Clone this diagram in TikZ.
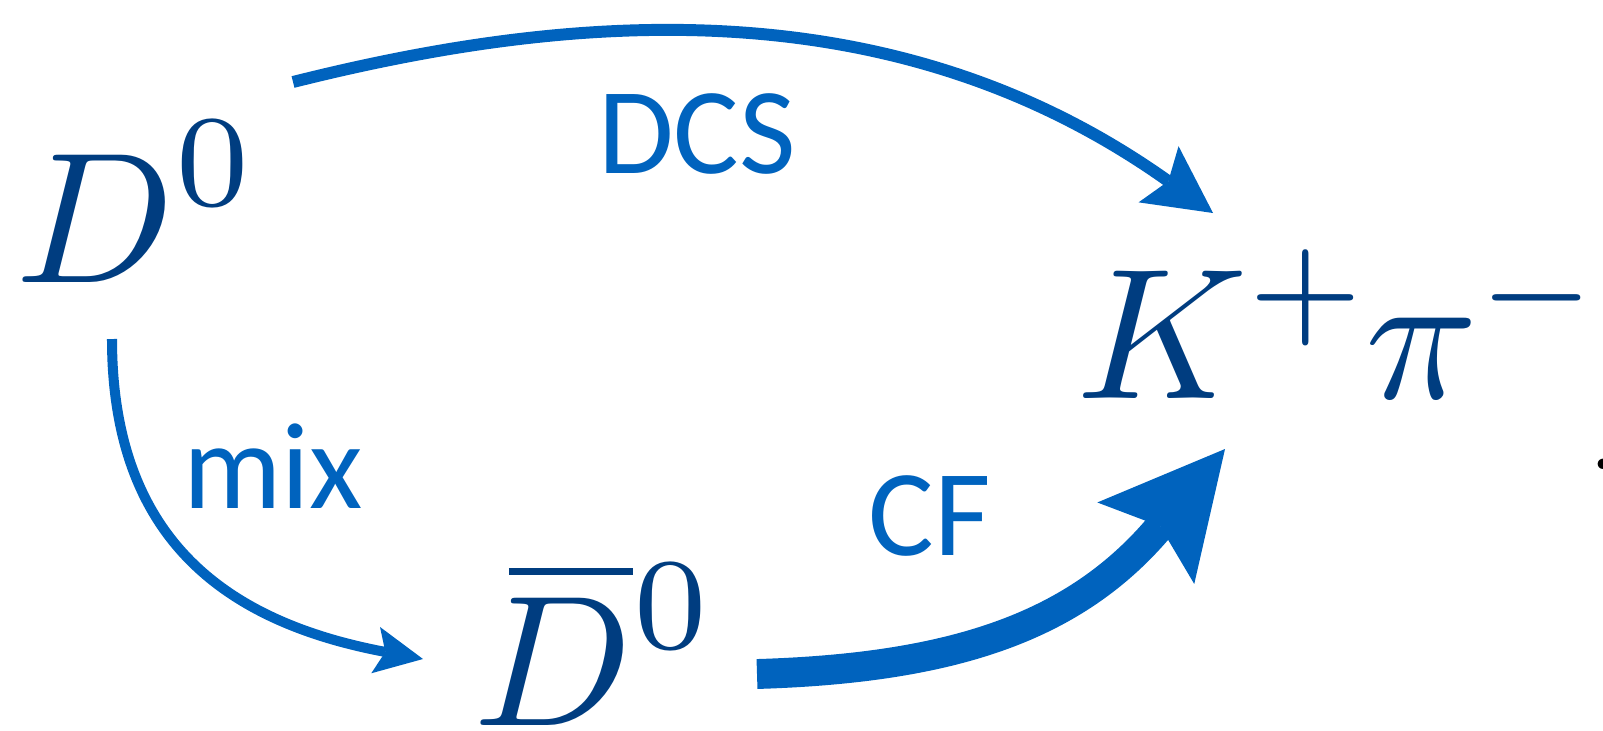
\documentclass[tikz,border=0pt]{standalone}
\usepackage{graphicx}
\usepackage{fontspec}
\newfontfamily\lblfont{Carlito}
\usetikzlibrary{arrows.meta}
\definecolor{partblue}{RGB}{0,61,128}
\definecolor{arrowblue}{RGB}{0,99,190}
\newcommand{\ptcl}[1]{\scalebox{5.3}{\normalsize$#1$}}
\newcommand{\supz}{\raisebox{0.45pt}{$\scriptstyle 0$}}

\begin{document}
\begin{tikzpicture}[x=0.01cm, y=-0.01cm, every node/.style={inner sep=0pt},
	particle/.style={anchor=base west, text=partblue},
	proclabel/.style={anchor=base, text=arrowblue, font=\lblfont\fontsize{35}{40}\selectfont}]
	\useasboundingbox (0,0) rectangle (1603,730);
	\node[particle] (d0) at (15,282) {\ptcl{D^{\supz}}};
	\node[particle] (d0bar) at (473,725) {\ptcl{\mkern3.4mu{\smash{\overline{\mkern-3.4mu D}}}^{\supz}}};
	\node[particle] (kpi) at (1076,398) {\ptcl{K^{+}\mkern-0.6mu\pi^{-}}};
	\node[anchor=base west, font=\fontsize{36}{40}\selectfont] (dot) at (1587,469) {.};
	\node[proclabel] (dcs) at (697,173) {DCS};
	\node[proclabel] (mix) at (273,508) {mix};
	\node[proclabel] (cf) at (930,555) {CF};
	\coordinate (dcs-s) at (293,82);
	\coordinate (dcs-e) at (1213,213);
	\coordinate (mix-s) at (112,339);
	\coordinate (mix-e) at (423,659);
	\coordinate (cf-s) at (757,674);
	\coordinate (cf-e) at (1225,449);
	\draw[arrowblue, line width=3.4pt, -{Stealth[length=19pt, width=19.6pt, inset=3.4pt, line width=0pt]}] (dcs-s) .. controls (560,15) and (887,-19) .. (dcs-e);
	\draw[arrowblue, line width=2.85pt, -{Stealth[length=13.7pt, width=13.4pt, inset=2.8pt, line width=0pt]}] (mix-s) .. controls (112,539) and (226,622) .. (mix-e);
	\draw[arrowblue, line width=8.5pt, -{Stealth[length=35pt, width=36pt, inset=6.3pt, line width=0pt]}] (cf-s) .. controls (957,668) and (1077,625) .. (cf-e);
\end{tikzpicture}
\end{document}
